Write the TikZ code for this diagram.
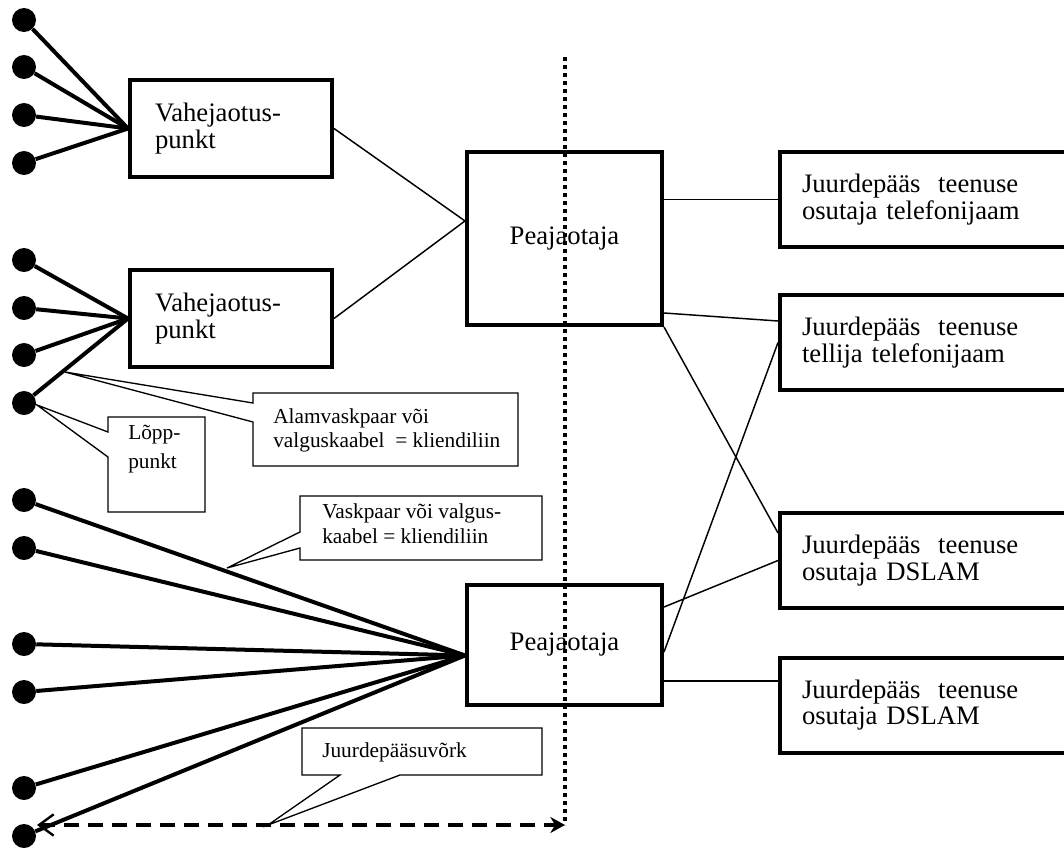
\documentclass[tikz,border=0pt]{standalone}
\usepackage{fontspec}
\setmainfont{Liberation Serif}
\usetikzlibrary{calc,arrows.meta}

\begin{document}
\begin{tikzpicture}[x=0.75pt,y=-0.75pt,
		dot/.style={circle,fill=black,inner sep=0pt,minimum size=18pt},
		wire/.style={line width=3pt},
		link/.style={line width=1.1pt},
		vjbox/.style={draw,line width=3pt,minimum width=151.5pt,minimum height=72.75pt,text width=114pt,inner xsep=18.75pt,align=left,font=\fontsize{20}{20}\selectfont},
		pjbox/.style={draw,line width=3pt,minimum width=146.25pt,align=center,font=\fontsize{20}{20}\selectfont},
		jbox/.style={draw,line width=3pt,minimum width=221.25pt,minimum height=71.25pt,text width=188.25pt,inner xsep=16.5pt,align=left,font=\fontsize{20}{20}\selectfont},
		note/.style={inner sep=0pt,align=left,font=\fontsize{16}{18}\selectfont},
		callout/.style={line width=1pt}]
		\useasboundingbox (0,0) rectangle (1064,850);
		\clip (0,0) rectangle (1064,850);
		\foreach \i/\y in {1/20,2/67,3/115,4/163,5/260,6/308,7/355,8/403,9/500,10/548,11/644,12/692,13/788,14/836} {
			\node[dot] (d\i) at (24,\y) {};
		}
		\node[vjbox] (vj1) at (231,128.5) {Vahejaotus-\\punkt};
		\node[vjbox] (vj2) at (231,318.5) {Vahejaotus-\\punkt};
		\node[pjbox,minimum height=129.75pt] (p1) at (564.5,238.5) {Peajaotaja};
		\node[pjbox,minimum height=90pt] (p2) at (564.5,645) {Peajaotaja};
		\node[jbox] (ja) at (927.5,199.5) {Juurdepääs\ \ teenuse\\osutaja telefonijaam};
		\node[jbox] (jb) at (927.5,342.5) {Juurdepääs\ \ teenuse\\tellija telefonijaam};
		\node[jbox] (jc) at (927.5,560.5) {Juurdepääs\ \ teenuse\\osutaja DSLAM};
		\node[jbox] (jd) at (927.5,705) {Juurdepääs\ \ teenuse\\osutaja DSLAM};
		\foreach \i in {1,...,4} {
			\draw[wire] (d\i) -- (vj1.west);
		}
		\foreach \i in {5,...,8} {
			\draw[wire] (d\i) -- (vj2.west);
		}
		\foreach \i in {9,...,14} {
			\draw[wire] (d\i) -- (p2.186);
		}
		\draw[link] (vj1.east) -- (p1.170);
		\draw[link] (vj2.east) -- (p1.170);
		\draw[link] (p1.east |- ja.west) -- (ja.west);
		\draw[link] ($(p1.east)+(0,74.5)$) -- ($(jb.west)+(0,-21.5)$);
		\draw[link] (p1.south east) -- ($(jc.west)+(0,-27.5)$);
		\draw[link] ($(p2.east)+(0,-38)$) -- (jc.west);
		\draw[link] ($(p2.east)+(0,7)$) -- (jb.west);
		\draw[link] ($(p2.east)+(0,36)$) -- ($(jd.west)+(0,-24)$);
		\coordinate (vT) at (565,57);
		\coordinate (vL) at (37,825);
		\coordinate (vR) at (565,825);
		\draw[line width=3pt,dash pattern=on 3pt off 3pt] (vT) -- (vR);
		\draw[line width=3pt,dash pattern=on 11pt off 7pt,{Straight Barb[length=11pt,width=16pt,line width=1.8pt]}-{Stealth[length=11pt,width=12pt]}] (vL) -- (vR);
		\draw[callout] (253,393) -- (518,393) -- (518,466) -- (253,466) -- (253,422) -- (65,372) -- (253,403) -- cycle;
		\node[note,anchor=west] (alam) at (273,430) {Alamvaskpaar või\\valguskaabel\ \ = kliendiliin};
		\draw[callout] (108,417) -- (205,417) -- (205,512) -- (108,512) -- (108,457) -- (37,405) -- (108,432) -- cycle;
		\node[note,anchor=north west,font=\fontsize{16}{22}\selectfont] (lopp) at (128,425) {Lõpp-\\punkt};
		\draw[callout] (300,496) -- (542,496) -- (542,560) -- (300,560) -- (300,548) -- (227,568) -- (300,532) -- cycle;
		\node[note,anchor=north west,font=\fontsize{16}{19}\selectfont] (vask) at (322,503) {Vaskpaar või valgus-\\kaabel = kliendiliin};
		\draw[callout] (302,728) -- (542,728) -- (542,775) -- (400,775) -- (268,825) -- (340,775) -- (302,775) -- cycle;
		\node[note,anchor=west] (vork) at (322,752) {Juurdepääsuvõrk};
	\end{tikzpicture}
\end{document}
